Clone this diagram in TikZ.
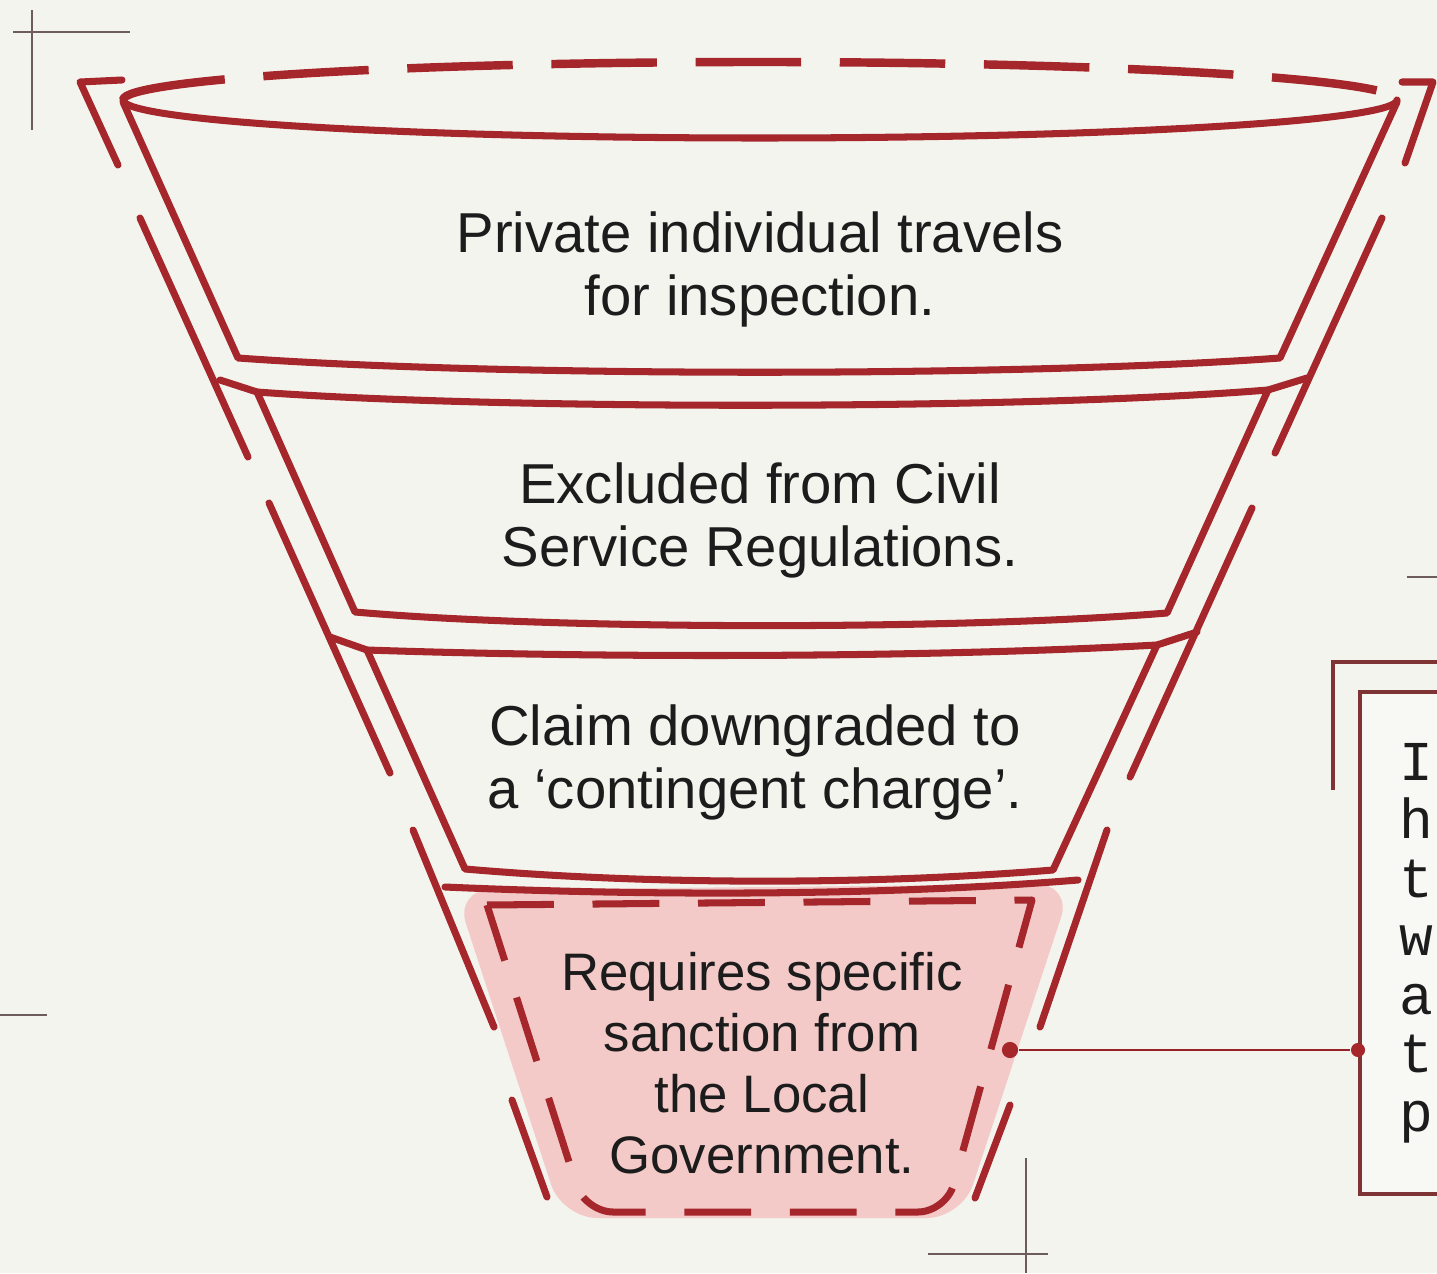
\documentclass[tikz,border=0pt]{standalone}
\usepackage{fontspec}
\setmainfont{Liberation Sans}
\newfontfamily\notefont{Liberation Mono}

\definecolor{paper}{HTML}{F4F4EF}
\definecolor{notepaper}{HTML}{F8F8F5}
\definecolor{funnelred}{HTML}{A5262B}
\definecolor{cup}{HTML}{F3CAC8}
\definecolor{noteline}{HTML}{7E3434}
\definecolor{markgrey}{HTML}{6E5C5C}
\definecolor{ink}{HTML}{1C1C1C}

\tikzset{
  rim/.style={draw=funnelred, line width=2pt, line cap=round, line join=round},
  rimdash/.style={rim, line width=2.4pt, line cap=butt, dash pattern=on 30pt off 11pt},
  cupdash/.style={rim, line cap=butt, dash pattern=on 19pt off 11pt},
  cropmark/.style={draw=markgrey, line width=0.6pt},
  stagetext/.style={text=ink, align=center, font=\fontsize{16}{17.9}\selectfont},
  notebox/.style={draw=noteline, line width=1.1pt},
  pinhead/.style={circle, fill=funnelred, inner sep=0pt, minimum size=4.6pt},
  leader/.style={draw=funnelred!90!black, line width=0.8pt}
}

\begin{document}
\begin{tikzpicture}[x=0.01cm, y=-0.01cm]
\useasboundingbox (0,0) rectangle (1437,1273);
\fill[paper] (0,0) rectangle (1437,1273);
\clip (0,0) rectangle (1437,1273);
% crop marks
\draw[cropmark] (13,32) -- (130,32) (32,10) -- (32,130);
\draw[cropmark] (0,1015) -- (47,1015);
\draw[cropmark] (1407,577) -- (1437,577);
\draw[cropmark] (928,1254) -- (1048,1254) (1026,1158) -- (1026,1273);
% the sanction cup
\fill[cup, rounded corners=10pt] (455,890) -- (1072,884) -- (962,1218) -- (562,1218) -- cycle;
% rim of the funnel
\draw[rimdash] (123,100) arc[start angle=180, end angle=360, x radius=637, y radius=38];
\draw[rim] (123,100) arc[start angle=180, end angle=0, x radius=637, y radius=38];
% stages
\draw[rim] (123,102) -- (238,358) .. controls (500,377) and (1020,377) .. (1280,358) -- (1397,102);
\draw[rim] (220,380) -- (257,392) .. controls (500,410) and (1020,410) .. (1268,390) -- (1307,378);
\draw[rim] (257,392) -- (355,612) .. controls (560,630) and (960,630) .. (1167,613) -- (1268,390);
\draw[rim] (330,637) -- (367,650) .. controls (600,658) and (920,658) .. (1157,645) -- (1197,632);
\draw[rim] (367,650) -- (465,869) .. controls (650,885) and (870,885) .. (1053,870) -- (1157,645);
\draw[rim] (445,887) .. controls (650,896) and (880,896) .. (1078,880);
\draw[cupdash] (487,905) -- (1032,900) [rounded corners=8pt] -- (946,1212) -- (585,1212) [sharp corners] -- cycle;
% outer wall
\draw[rim] (122,80) -- (80,82) -- (118,165);
\draw[rim] (140,218) -- (248,457);
\draw[rim] (269,503) -- (390,773);
\draw[rim] (413,830) -- (494,1027);
\draw[rim] (512,1100) -- (547,1197);
\draw[rim] (1402,82) -- (1433,82) -- (1405,163);
\draw[rim] (1382,218) -- (1275,453);
\draw[rim] (1252,508) -- (1130,777);
\draw[rim] (1107,830) -- (1040,1027);
\draw[rim] (1010,1105) -- (975,1198);
% texts
\node[stagetext] (privateTravel) at (760,269) {Private individual travels\\for inspection.};
\node[stagetext] (civilService) at (760,520) {Excluded from Civil\\Service Regulations.};
\node[stagetext] (contingentCharge) at (755,762) {Claim downgraded to\\a ‘contingent charge’.};
\node[stagetext, font=\fontsize{15}{17.3}\selectfont] (localSanction) at (762,1063) {Requires specific\\sanction from\\the Local\\Government.};
% note
\draw[notebox] (1333,790) -- (1333,662) -- (1470,662);
\node[notebox, fill=notepaper, anchor=north west, minimum width=1.3cm, minimum height=5.02cm] (note) at (1358,690) {};
\foreach \ch [count=\i] in {I,h,t,w,a,t,p}
  \node[anchor=base west, inner sep=0pt, text=ink, font=\notefont\fontsize{16}{17}\selectfont] (noteline\i) at (1399,{721.5+58.5*\i}) {\ch};
\node[pinhead] (pinFunnel) at (1010,1050) {};
\node[pinhead, minimum size=4pt] (pinNote) at (note.west |- pinFunnel) {};
\draw[leader] (pinFunnel) -- (pinNote);
\end{tikzpicture}
\end{document}
